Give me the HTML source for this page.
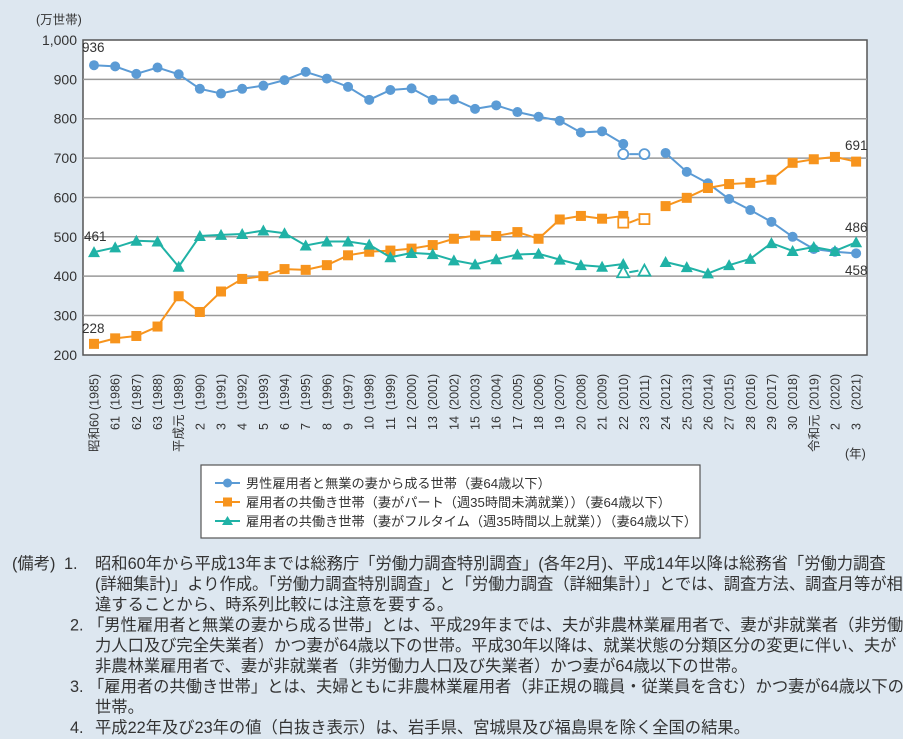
<!DOCTYPE html>
<html><head><meta charset="utf-8"><style>
body{margin:0;background:#dde7f0;}
svg{display:block;font-family:"Liberation Sans","Noto Sans CJK JP",sans-serif;}
.n{font-size:16.3px;fill:#333;}
</style></head><body>
<svg id="s" width="903" height="739" viewBox="0 0 903 739" xmlns="http://www.w3.org/2000/svg">
<rect width="903" height="739" fill="#dde7f0"/>
<rect x="83" y="40" width="784" height="315" fill="#fff" stroke="#555" stroke-width="1.5"/>
<g id="grid"></g>
<text x="36" y="24" font-size="12.5" fill="#333">(万世帯)</text>
<g id="yl" font-size="14" fill="#333" text-anchor="end"></g>
<g id="xl" font-size="12.5" fill="#333"></g>
<text x="845" y="458" font-size="12.5" fill="#333">(年)</text>
<g id="ser"></g>
<g font-size="13.5" fill="#333">
<text x="82" y="52">936</text>
<text x="84" y="241">461</text>
<text x="82" y="333">228</text>
<text x="845" y="150">691</text>
<text x="845" y="232">486</text>
<text x="845" y="275">458</text>
</g>
<rect x="201" y="465" width="499" height="73" fill="#fff" stroke="#555" stroke-width="1.2"/>
<g font-size="13.2" fill="#333">
<line x1="215" y1="483" x2="240" y2="483" stroke="#5b9bd5" stroke-width="2"/><circle cx="227.5" cy="483" r="4.5" fill="#5b9bd5"/>
<text x="246" y="488">男性雇用者と無業の妻から成る世帯（妻64歳以下）</text>
<line x1="215" y1="502" x2="240" y2="502" stroke="#f7941d" stroke-width="2"/><rect x="223" y="497.5" width="9" height="9" fill="#f7941d"/>
<text x="246" y="507">雇用者の共働き世帯（妻がパート（週35時間未満就業））（妻64歳以下）</text>
<line x1="215" y1="521" x2="240" y2="521" stroke="#20b2a6" stroke-width="2"/><polygon points="227.5,516 233,525 222,525" fill="#20b2a6"/>
<text x="246" y="526">雇用者の共働き世帯（妻がフルタイム（週35時間以上就業））（妻64歳以下）</text>
</g>
<g class="n">
<text x="12" y="569">(備考)</text>
<text x="64" y="569">1.</text>
<text x="95" y="569">昭和60年から平成13年までは総務庁「労働力調査特別調査」(各年2月)、平成14年以降は総務省「労働力調査</text>
<text x="95" y="589.5">(詳細集計)」より作成。「労働力調査特別調査」と「労働力調査（詳細集計）」とでは、調査方法、調査月等が相</text>
<text x="95" y="610">違することから、時系列比較には注意を要する。</text>
<text x="70" y="630.5">2.</text>
<text x="88" y="630.5">「男性雇用者と無業の妻から成る世帯」とは、平成29年までは、夫が非農林業雇用者で、妻が非就業者（非労働</text>
<text x="95" y="651">力人口及び完全失業者）かつ妻が64歳以下の世帯。平成30年以降は、就業状態の分類区分の変更に伴い、夫が</text>
<text x="95" y="671.5">非農林業雇用者で、妻が非就業者（非労働力人口及び失業者）かつ妻が64歳以下の世帯。</text>
<text x="70" y="692">3.</text>
<text x="88" y="692">「雇用者の共働き世帯」とは、夫婦ともに非農林業雇用者（非正規の職員・従業員を含む）かつ妻が64歳以下の</text>
<text x="95" y="712.5">世帯。</text>
<text x="70" y="733">4.</text>
<text x="95" y="733">平成22年及び23年の値（白抜き表示）は、岩手県、宮城県及び福島県を除く全国の結果。</text>
</g>
</svg>
<script>
const NS="http://www.w3.org/2000/svg";
const Y=v=>40+(1000-v)*0.3936, X=i=>94+21.17*i;
function el(p,t,a,txt){const e=document.createElementNS(NS,t);for(const k in a)e.setAttribute(k,a[k]);if(txt!==undefined)e.textContent=txt;document.getElementById(p).appendChild(e);return e;}
for(let v=300;v<=900;v+=100)el("grid","line",{x1:83,x2:867,y1:Y(v),y2:Y(v),stroke:"#999","stroke-width":1.5});
for(let v=200;v<=1000;v+=100)el("yl","text",{x:77,y:Y(v)+5},v==1000?"1,000":v);
const era=["昭和60","61","62","63","平成元","2","3","4","5","6","7","8","9","10","11","12","13","14","15","16","17","18","19","20","21","22","23","24","25","26","27","28","29","30","令和元","2","3"];
for(let i=0;i<37;i++){const x=X(i)+4.5;
 el("xl","text",{transform:`translate(${x},410) rotate(-90)`},"("+(1985+i)+")");
 el("xl","text",{transform:`translate(${x},${era[i].length>2?452:430}) rotate(-90)`},era[i]);}
const A=[936,933,914,930,913,876,864,876,884,898,919,902,881,848,873,877,848,849,825,834,817,805,795,765,768,736,null,713,665,636,596,568,538,500,469,462,458];
const B=[228,242,248,272,349,309,361,393,400,418,416,428,453,462,465,470,479,495,503,502,512,495,544,553,546,553,null,578,599,624,634,637,645,688,697,703,691];
const C=[461,473,490,488,424,502,505,507,516,509,478,488,488,480,448,459,456,440,430,443,455,457,442,428,424,431,null,436,423,407,428,444,484,464,474,464,486];
function line(d,col){for(const seg of [d.slice(0,26).map((v,i)=>[i,v]),d.slice(27).map((v,i)=>[i+27,v])])
 el("ser","polyline",{points:seg.map(p=>X(p[0])+","+Y(p[1])).join(" "),fill:"none",stroke:col,"stroke-width":2});}
function mk(t,x,y,col,open){const f=open?"#fff":col;
 if(t==0)el("ser","circle",{cx:x,cy:y,r:5,fill:f,stroke:col,"stroke-width":open?1.8:0});
 if(t==1)el("ser","rect",{x:x-5,y:y-5,width:10,height:10,fill:f,stroke:col,"stroke-width":open?1.8:0});
 if(t==2)el("ser","polygon",{points:`${x},${y-6} ${x+6},${y+5} ${x-6},${y+5}`,fill:f,stroke:col,"stroke-width":open?1.8:0});}
const S=[[A,"#5b9bd5",0,[710,710]],[B,"#f7941d",1,[536,545]],[C,"#20b2a6",2,[410,414]]];
for(const [d,c,t,o] of S){line(d,c);
 el("ser","line",{x1:X(25)+6,x2:X(26)-6,y1:Y(o[0]),y2:Y(o[1]),stroke:c,"stroke-width":2});
 d.forEach((v,i)=>{if(v!=null)mk(t,X(i),Y(v),c,false)});
 mk(t,X(25),Y(o[0]),c,true);mk(t,X(26),Y(o[1]),c,true);}
</script>
</body></html>
